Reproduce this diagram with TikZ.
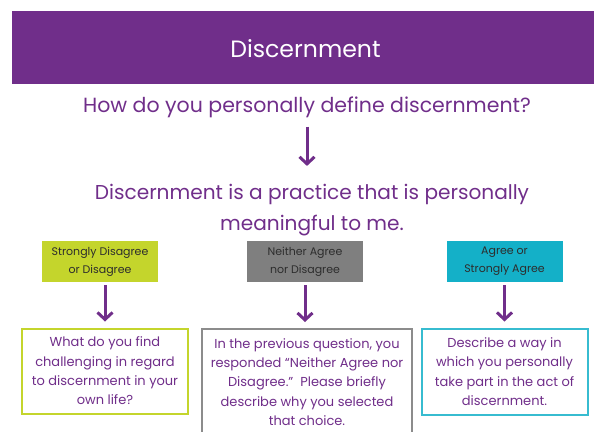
\documentclass[tikz,border=0pt]{standalone}
\usepackage{fontspec}
\setmainfont{Poppins}
\usetikzlibrary{arrows.meta}

\definecolor{discpurple}{RGB}{112,46,138}
\definecolor{sdgreen}{RGB}{196,213,44}
\definecolor{nagrey}{RGB}{127,127,127}
\definecolor{sacyan}{RGB}{20,176,200}
\definecolor{labtext}{RGB}{45,45,45}

\tikzset{
    lab/.style  = {minimum width = 116pt, minimum height = 41pt, inner sep = 0pt,
                   align = center, text = labtext,
                   font = \fontsize{11}{18}\selectfont},
    ans/.style  = {draw, line width = 2pt, fill = white, inner sep = 0pt,
                   align = center, text = discpurple,
                   font = \fontsize{13}{19.3}\selectfont},
    down/.style = {-{Straight Barb[length = 7pt, width = 15pt]},
                   line width = 3pt, draw = discpurple}
}

\begin{document}
\begin{tikzpicture}[x = 1pt, y = -1pt]
            \useasboundingbox (0, 0) rectangle (594, 431);

            % heading and the two prompts
            \fill [discpurple] (12, 11) rectangle (594, 84);
            \node (banner) [anchor = base, inner sep = 0pt, text = white,
                  font = \fontsize{23.6}{28}\selectfont] at (305.5, 57)
                  {Discernment};

            \node (define) [anchor = base, inner sep = 0pt, text = discpurple,
                  font = \fontsize{20.5}{24}\selectfont] at (307, 112)
                  {How do you personally define discernment?};

            \node (practice) [inner sep = 0pt, align = center, text = discpurple,
                  font = \fontsize{20.1}{31}\selectfont] at (312, 210)
                  {Discernment is a practice that is personally\\
                   meaningful to me.};

            % answer categories
            \node (sdlab) [lab, fill = sdgreen] at (100, 261.5)
                  {Strongly Disagree\\or Disagree};
            \node (nalab) [lab, fill = nagrey] at (305, 261.5)
                  {Neither Agree\\nor Disagree};
            \node (salab) [lab, fill = sacyan] at (504.5, 261.5)
                  {Agree or\\Strongly Agree};

            % follow-up questions
            \node (sdans) [ans, draw = sdgreen, minimum width = 166pt,
                  minimum height = 85pt] at (105, 371)
                  {What do you find\\challenging in regard\\
                   to discernment in your\\own life?};
            \node (naans) [ans, draw = nagrey!90, minimum width = 210pt,
                  minimum height = 112pt, anchor = north] at (307, 328)
                  {};
            \node (natext) [inner sep = 0pt, align = center, text = discpurple,
                  font = \fontsize{13}{19.3}\selectfont] at (307, 382)
                  {In the previous question, you\\
                   responded “Neither Agree nor\\
                   Disagree.”\ \ Please briefly\\
                   describe why you selected\\that choice.};
            \node (saans) [ans, draw = sacyan!85, minimum width = 166pt,
                  minimum height = 86pt] at (504.5, 371.5)
                  {Describe a way in\\which you personally\\
                   take part in the act of\\discernment.};

            \draw [down, shorten <= 9pt, shorten >= 18pt]
                  (define.south) -- (define.south |- practice.north);
            \draw [down, shorten <= 3pt, shorten >= 6pt]
                  (sdans.north |- sdlab.south) -- (sdans.north); % green
            \draw [down, shorten <= 3pt, shorten >= 6pt]
                  (nalab.south) -- (nalab.south |- naans.north); % grey
            \draw [down, shorten <= 3pt, shorten >= 6pt]
                  (salab.south) -- (salab.south |- saans.north); % cyan
\end{tikzpicture}
\end{document}
